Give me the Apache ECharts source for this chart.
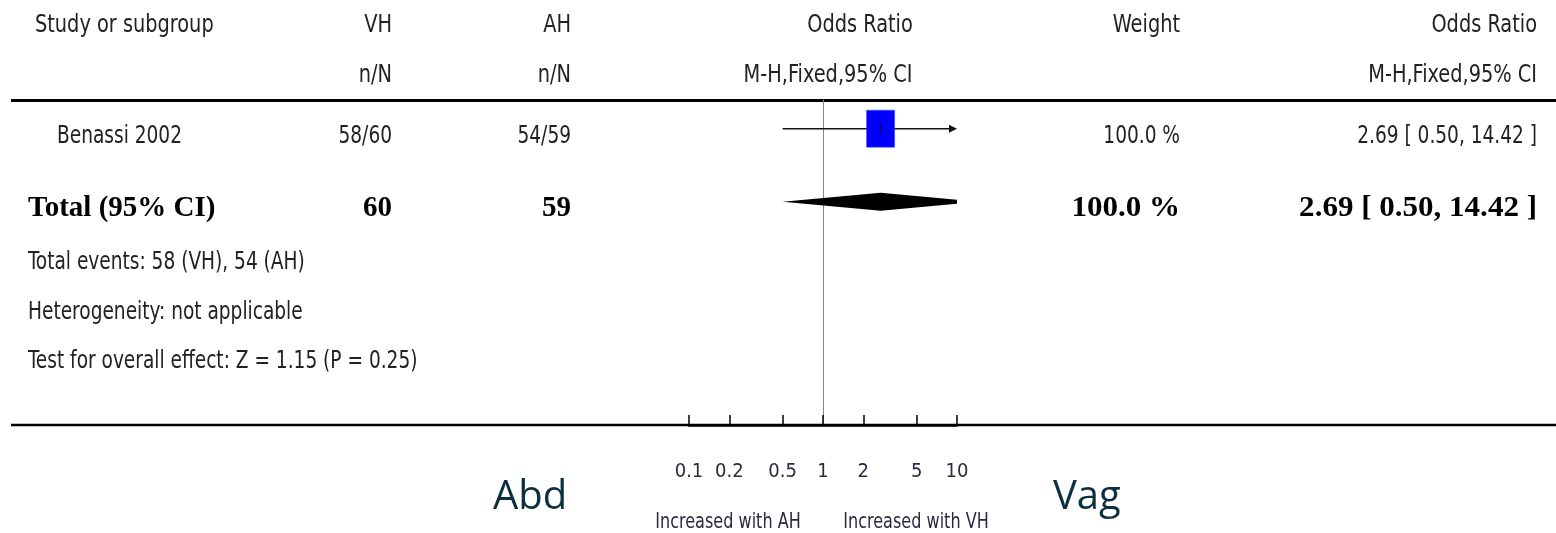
<!DOCTYPE html>
<html>
<head>
<meta charset="utf-8">
<script src="https://cdn.jsdelivr.net/npm/echarts@6/dist/echarts.min.js"></script>
<style>
html,body{margin:0;padding:0;background:#fff;}
#chart{width:1556px;height:533px;}
</style>
</head>
<body>
<div id="chart"></div>
<script>
// ---------- data ----------
const studies = ['Benassi 2002'];
const vhEvents = [58];
const vhTotal = [60];
const ahEvents = [54];
const ahTotal = [59];
const oddsRatio = [2.69];
const ciLow = [0.50];
const ciHigh = [14.42];
const weights = [100.0];

const totalLabel = 'Total (95% CI)';
const totalVH = 60;
const totalAH = 59;
const totalOR = 2.69;
const totalLow = 0.50;
const totalHigh = 14.42;
const totalWeight = 100.0;

const headerRow1 = ['Study or subgroup', 'VH', 'AH', 'Odds Ratio', 'Weight', 'Odds Ratio'];
const headerRow2 = ['', 'n/N', 'n/N', 'M-H,Fixed,95% CI', '', 'M-H,Fixed,95% CI'];
const footnotes = [
  'Total events: 58 (VH), 54 (AH)',
  'Heterogeneity: not applicable',
  'Test for overall effect: Z = 1.15 (P = 0.25)'
];
const tickValues = [0.1, 0.2, 0.5, 1, 2, 5, 10];
const tickLabels = ['0.1', '0.2', '0.5', '1', '2', '5', '10'];
const favoursLeft = 'Increased with AH';
const favoursRight = 'Increased with VH';
const sideLeft = 'Abd';
const sideRight = 'Vag';
const plotMin = 0.1;
const plotMax = 10;

// ---------- styling ----------
const SANS = "'DejaVu Sans Condensed','Liberation Sans Narrow','Liberation Sans',sans-serif";
const SERIF = "'Liberation Serif','DejaVu Serif',serif";
const TXT = '#222';
const NARROW = 0.86;
const fmt2 = v => v.toFixed(2);
const ciText = (o, l, h) => fmt2(o) + ' [ ' + fmt2(l) + ', ' + fmt2(h) + ' ]';

const L = Math.log10;
const lmin = L(plotMin), lmax = L(plotMax);

// forest data: [log OR, log lo, log hi, row, kind(0 study,1 total), weight]
const forestData = studies.map((s, i) => [L(oddsRatio[i]), L(ciLow[i]), L(ciHigh[i]), i, 0, weights[i]]);
forestData.push([L(totalOR), L(totalLow), L(totalHigh), studies.length, 1, totalWeight]);

function renderItem(params, api) {
  const c = v => Math.max(lmin, Math.min(lmax, v));
  const lo = api.value(1), hi = api.value(2), mid = api.value(0), row = api.value(3);
  const kind = api.value(4), w = api.value(5);
  const pLo = api.coord([c(lo), row]);
  const pHi = api.coord([c(hi), row]);
  const pMid = api.coord([c(mid), row]);
  const y = pMid[1];
  const children = [];
  if (kind === 0) {
    const clippedHi = hi > lmax;
    const clippedLo = lo < lmin;
    let x1 = pLo[0], x2 = pHi[0];
    children.push({type: 'line', shape: {x1: clippedLo ? x1 + 6 : x1, y1: y, x2: clippedHi ? x2 - 6 : x2, y2: y},
      style: {stroke: '#111', lineWidth: 1.5}});
    if (clippedHi) {
      children.push({type: 'polygon', shape: {points: [[x2, y], [x2 - 8, y - 4], [x2 - 8, y + 4]]},
        style: {fill: '#111'}});
    }
    if (clippedLo) {
      children.push({type: 'polygon', shape: {points: [[x1, y], [x1 + 8, y - 4], [x1 + 8, y + 4]]},
        style: {fill: '#111'}});
    }
    const s = Math.sqrt(w / 100);
    const bw = 28 * s, bh = 37 * s;
    children.push({type: 'rect', shape: {x: pMid[0] - bw / 2, y: y - bh / 2, width: bw, height: bh},
      style: {fill: '#0000ff', stroke: '#3344ff', lineWidth: 0.5}});
    children.push({type: 'line', shape: {x1: pMid[0], y1: y - 5, x2: pMid[0], y2: y + 5},
      style: {stroke: '#111', lineWidth: 1}});
  } else {
    const h = 9;
    const fullLo = api.coord([lo, row])[0];
    const fullHi = api.coord([hi, row])[0];
    const pts = [];
    let hl = 0;
    if (lo < lmin) {
      hl = h * (pLo[0] - fullLo) / (pMid[0] - fullLo);
      pts.push([pLo[0], y - hl]);
    } else {
      pts.push([pLo[0], y]);
    }
    pts.push([pMid[0], y - h]);
    if (hi > lmax) {
      const hr = h * (fullHi - pHi[0]) / (fullHi - pMid[0]);
      pts.push([pHi[0], y - hr]);
      pts.push([pHi[0], y + hr]);
    } else {
      pts.push([pHi[0], y]);
    }
    pts.push([pMid[0], y + h]);
    if (lo < lmin) pts.push([pLo[0], y + hl]);
    children.push({type: 'polygon', shape: {points: pts}, style: {fill: '#000'}});
  }
  return {type: 'group', children: children};
}

// ---------- table text ----------
const colX = [35, 392, 571, null, 1180, 1537];
const colAlign = ['left', 'right', 'right', 'center', 'right', 'right'];
const graphics = [];
function txt(x, y, text, align, font, fill, sx) {
  graphics.push({type: 'text', x: x, y: y, scaleX: sx || 1, silent: true,
    style: {text: text, font: font, fill: fill || TXT, align: align, verticalAlign: 'middle'}});
}
const f25 = '25px ' + SANS;
const f24 = '24px ' + SANS;
const fb = 'bold 29px ' + SERIF;
headerRow1.forEach((t, i) => {
  if (!t) return;
  const x = i === 3 ? 860 : colX[i];
  txt(x, 25, t, colAlign[i], f25, TXT, NARROW);
});
headerRow2.forEach((t, i) => {
  if (!t) return;
  const x = i === 3 ? 828 : colX[i];
  txt(x, 75, t, colAlign[i], f25, TXT, NARROW);
});
studies.forEach((s, i) => {
  const y = 137 + i * 73;
  txt(57, y, s, 'left', f24, TXT, NARROW);
  txt(392, y, vhEvents[i] + '/' + vhTotal[i], 'right', f24, TXT, NARROW);
  txt(571, y, ahEvents[i] + '/' + ahTotal[i], 'right', f24, TXT, NARROW);
  txt(1180, y, weights[i].toFixed(1) + ' %', 'right', f24, TXT, NARROW);
  txt(1537, y, ciText(oddsRatio[i], ciLow[i], ciHigh[i]), 'right', f24, TXT, NARROW);
});
const yT = 137 + studies.length * 73 - 1;
txt(28, yT, totalLabel, 'left', fb, '#000');
txt(392, yT, String(totalVH), 'right', fb, '#000');
txt(571, yT, String(totalAH), 'right', fb, '#000');
txt(1180, yT, totalWeight.toFixed(1) + ' %', 'right', fb, '#000', 1.07);
txt(1537, yT, ciText(totalOR, totalLow, totalHigh), 'right', fb, '#000', 1.07);
footnotes.forEach((t, i) => txt(28, 263 + i * 49.5, t, 'left', f24, TXT, NARROW));
txt(728, 523, favoursLeft, 'center', '21px ' + SANS, '#2a2a40', 0.85);
txt(916, 523, favoursRight, 'center', '21px ' + SANS, '#2a2a40', 0.85);
txt(493, 498, sideLeft, 'left', "40px 'Open Sans','Noto Sans',sans-serif", '#0c3040');
txt(1053, 498, sideRight, 'left', "40px 'Open Sans','Noto Sans',sans-serif", '#0c3040');
// separator lines
graphics.push({type: 'line', silent: true, shape: {x1: 11, y1: 100.5, x2: 1556, y2: 100.5},
  style: {stroke: '#000', lineWidth: 3}});
graphics.push({type: 'line', silent: true, shape: {x1: 11, y1: 425, x2: 1556, y2: 425},
  style: {stroke: '#000', lineWidth: 2.5}});

const tickLog = tickValues.map(L);

const chart = echarts.init(document.getElementById('chart'), null, {renderer: 'canvas'});
chart.setOption({
  animation: false,
  backgroundColor: '#fff',
  grid: {left: 689, right: 599, top: 100, bottom: 108, containLabel: false},
  xAxis: {
    type: 'value', min: lmin, max: lmax,
    axisLine: {show: true, onZero: false, lineStyle: {color: '#000', width: 2.5}},
    axisTick: {show: true, inside: true, length: 10, customValues: tickLog,
      lineStyle: {color: '#000', width: 1.5}},
    axisLabel: {show: true, customValues: tickLog, margin: 47, verticalAlign: 'middle',
      fontSize: 20, fontFamily: SANS, color: '#2a2a40',
      formatter: v => {
        let best = 0;
        tickLog.forEach((t, i) => { if (Math.abs(t - v) < Math.abs(tickLog[best] - v)) best = i; });
        return tickLabels[best];
      }},
    splitLine: {show: false}
  },
  yAxis: {
    type: 'value', inverse: true, min: -0.393, max: 4.452 - 0.393,
    axisLine: {show: true, onZero: true, lineStyle: {color: '#888', width: 1}},
    axisTick: {show: false}, axisLabel: {show: false}, splitLine: {show: false}
  },
  series: [{
    type: 'custom',
    renderItem: renderItem,
    data: forestData,
    clip: false,
    z: 5
  }],
  graphic: graphics
});
</script>
</body>
</html>
